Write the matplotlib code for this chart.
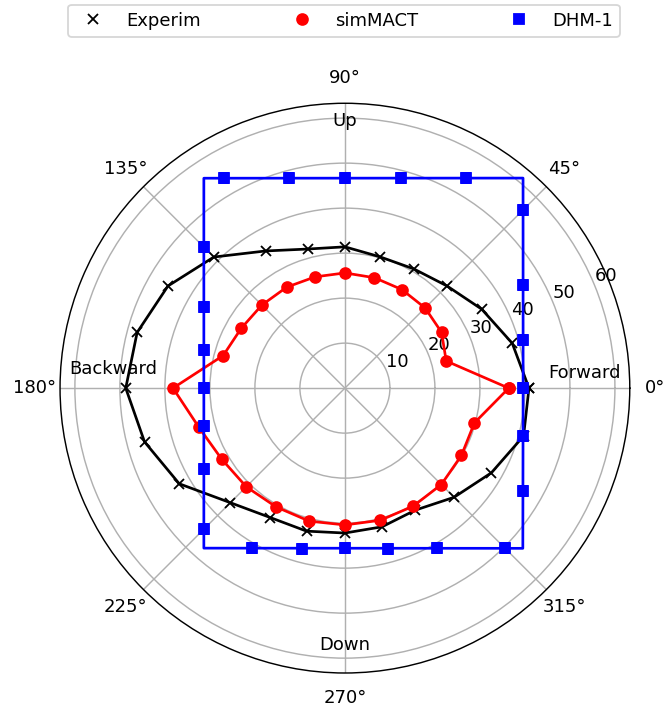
import matplotlib
matplotlib.use("Agg")
import matplotlib.pyplot as plt
import numpy as np

# angles (deg) of the sampled directions
angles = [0, 15, 30, 45, 60, 75, 90, 105, 120, 135, 150, 165,
          180, 195, 210, 225, 240, 255, 270, 285, 300, 315, 330, 345, 360]

experim = [40.9, 38.5, 35.1, 32.1, 30.6, 30.2, 31.4, 32.0, 35.2, 41.2, 45.4, 47.8,
           48.7, 46.1, 42.5, 36.0, 33.2, 32.9, 32.2, 31.9, 31.3, 34.3, 37.6, 41.1, 40.9]

simmact = [36.4, 23.3, 24.8, 25.2, 25.3, 25.4, 25.6, 25.6, 25.9, 26.1, 26.6, 28.0,
           38.2, 33.6, 31.6, 31.0, 30.5, 30.6, 30.4, 30.4, 30.3, 30.3, 29.9, 29.8, 36.4]

dhm1 = [39.6, 41.0, 45.7, 56.0, 53.9, 48.3, 46.7, 48.3, 53.9, 44.3, 36.1, 32.4,
        31.3, 32.4, 36.1, 44.3, 41.1, 36.9, 35.6, 36.9, 41.1, 50.3, 45.7, 41.0]

# outline of the DHM-1 envelope (corners)
dhm1_outline_deg = [0, 49.7, 123.9, 228.6, 318.0, 360]
dhm1_outline_r = [39.6, 61.2, 56.2, 47.4, 53.2, 39.6]

rmax = 63.3
direction_labels = ["Forward", "Up", "Backward", "Down"]
direction_pos = [(3.6, 53.4), (90, 59.3), (175.3, 51.7), (270, 57.1)]

fig = plt.figure(figsize=(5.115, 5.485), dpi=130)
ax = fig.add_axes([0.0902, 0.0561, 0.857, 0.799], projection="polar")

th = np.deg2rad(angles)
ax.plot(th, experim, color="black", lw=1.5)
ax.plot(th, experim, "x", color="black", label="Experim")
ax.plot(th, simmact, color="red", lw=1.5)
ax.plot(th, simmact, "o", color="red", label="simMACT")
ax.plot(np.deg2rad(dhm1_outline_deg), dhm1_outline_r, color="blue", lw=1.5)
ax.plot(np.deg2rad(angles[:-1]), dhm1, "s", color="blue", label="DHM-1")

ax.set_rmax(rmax)
ax.set_rticks([10, 20, 30, 40, 50, 60])

for lab, (a, r) in zip(direction_labels, direction_pos):
    ax.text(np.deg2rad(a), r, lab, ha="center", va="center")

fig.legend(loc="lower left", bbox_to_anchor=(68 / 665, 1 - 37 / 713, 552 / 665, 32 / 713),
           mode="expand", ncol=3, borderaxespad=0)

fig.savefig("out.png", dpi=130)
